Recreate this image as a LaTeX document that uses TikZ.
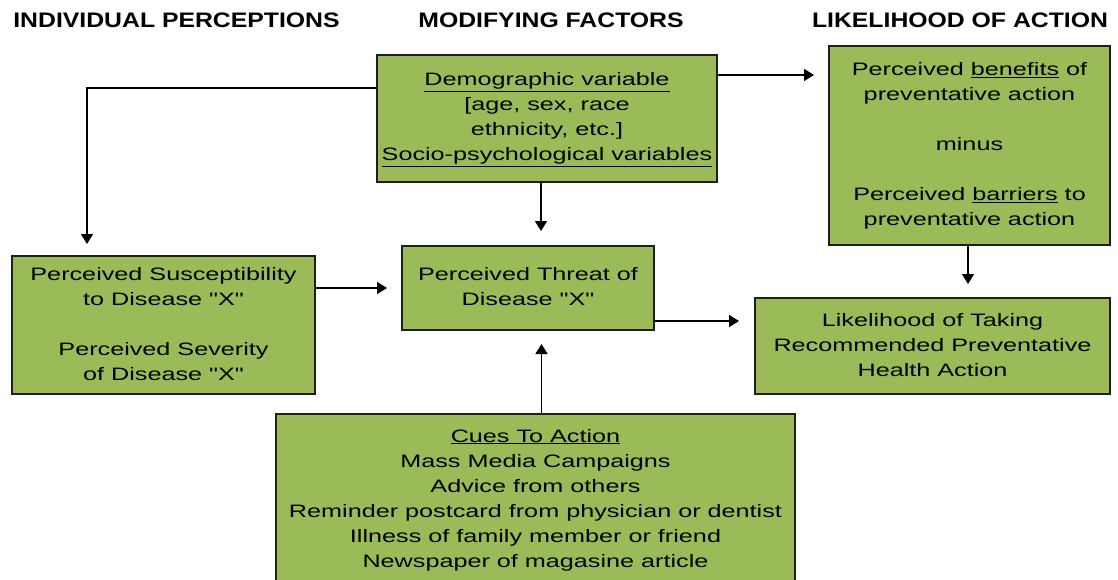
\documentclass[tikz,border=0pt]{standalone}
\usepackage{fontspec}
\setmainfont{Liberation Sans}[Ligatures=TeXOff]
\usepackage{graphicx}
\usetikzlibrary{arrows.meta,calc}
\definecolor{gfill}{RGB}{155,187,89}
\definecolor{gline}{RGB}{30,30,30}
\newcommand\boxtxt[1]{\scalebox{1.4}[1]{\fontsize{18}{25}\selectfont\begin{tabular}{@{}c@{}}#1\end{tabular}}}
\newcommand\hdrtxt[1]{\scalebox{1.18}[1]{\fontsize{21}{25}\selectfont\bfseries #1}}
\begin{document}
\begin{tikzpicture}[x=1pt,y=-1pt,
  gbox/.style={draw=gline, line width=2pt, fill=gfill, rectangle, inner sep=0pt},
  hdr/.style={inner sep=0pt, anchor=center},
  arr/.style={line width=1.5pt, draw=black, -{Triangle[width=12pt,length=10pt]}, shorten >=12pt}]
\clip (0,0) rectangle (1118,580);
\fill[white] (0,0) rectangle (1118,580);

% headers
\node[hdr] (h1) at (176.5,20.5) {\hdrtxt{INDIVIDUAL PERCEPTIONS}};
\node[hdr] (h2) at (551,20.5) {\hdrtxt{MODIFYING FACTORS}};
\node[hdr] (h3) at (960,20.5) {\hdrtxt{LIKELIHOOD OF ACTION}};

% boxes
\node[gbox, minimum width=340pt, minimum height=127pt] (demo) at (547,118.5)
  {\boxtxt{\underline{Demographic variable}\\ {[}age, sex, race\\ ethnicity, etc.]\\ \underline{Socio-psychological variables}}};
\node[gbox, minimum width=281pt, minimum height=199pt] (benefit) at (969.5,145.5)
  {\boxtxt{Perceived \underline{benefits} of\\ preventative action\\ \\ minus\\ \\ Perceived \underline{barriers} to\\ preventative action}};
\node[gbox, minimum width=303pt, minimum height=138pt] (susc) at (163.5,325)
  {\boxtxt{Perceived Susceptibility\\ to Disease "X"\\ \\ Perceived Severity\\ of Disease "X"}};
\node[gbox, minimum width=252pt, minimum height=84pt] (threat) at (528,288)
  {\boxtxt{Perceived Threat of\\ Disease "X"}};
\node[gbox, minimum width=355pt, minimum height=96pt] (likely) at (932.5,346)
  {\boxtxt{Likelihood of Taking\\ Recommended Preventative\\ Health Action}};
\node[gbox, minimum width=519pt, minimum height=171pt] (cues) at (535.5,499.5)
  {\boxtxt{\underline{Cues To Action}\\ Mass Media Campaigns\\ Advice from others\\ Reminder postcard from physician or dentist\\ Illness of family member or friend\\ Newspaper of magasine article}};

% connectors
\draw[arr, shorten >=11pt] ([yshift=30.5pt]demo.west) -| ([xshift=76pt]susc.north west);
\draw[arr, shorten >=14pt] ([xshift=-6pt]demo.south) -- ([xshift=-6pt]demo.south |- threat.north);
\draw[arr, shorten >=14pt] ([yshift=43.5pt]demo.east) -- ([yshift=43.5pt]demo.east -| benefit.west);
\draw[arr, shorten >=14pt] (threat.west -| susc.east) -- (threat.west);
\draw[arr, shorten >=15pt] ([yshift=-33pt]threat.east) -- ([yshift=-33pt]threat.east -| likely.west);
\draw[arr, shorten >=13pt] ([xshift=-1.5pt]benefit.south) -- ([xshift=-1.5pt]benefit.south |- likely.north);
\draw[arr, shorten >=13pt] ([xshift=6pt]cues.north) -- ([xshift=6pt]cues.north |- threat.south);
\end{tikzpicture}
\end{document}
